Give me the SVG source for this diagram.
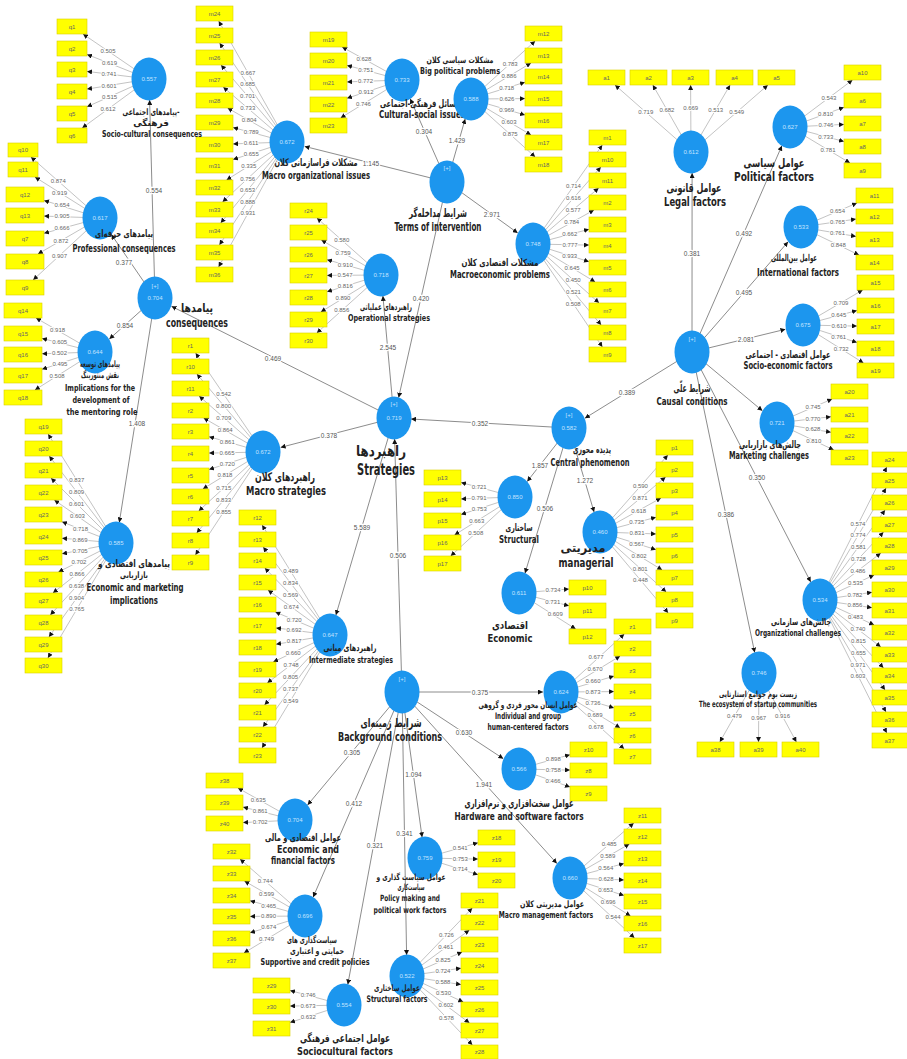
<svg xmlns="http://www.w3.org/2000/svg" width="907" height="1059" viewBox="0 0 907 1059">
<style>
.l{stroke:#9a9a9a;stroke-width:.6;fill:none;marker-end:url(#ah)}
.p{stroke:#6e6e6e;stroke-width:.8;fill:none;marker-end:url(#ah)}
.ld text{font-family:"Liberation Sans",sans-serif;font-size:6px;fill:#666;text-anchor:middle;dominant-baseline:central;paint-order:stroke;stroke:#fff;stroke-width:2px}
.pl text{font-family:"Liberation Sans",sans-serif;font-size:6.5px;fill:#555;text-anchor:middle;dominant-baseline:central;paint-order:stroke;stroke:#fff;stroke-width:2.5px}
.ind rect{fill:#ffff00;stroke:#d9cf00;stroke-width:.6}
.ind text{font-family:"Liberation Sans",sans-serif;font-size:6px;fill:#666;text-anchor:middle;dominant-baseline:central}
.lv ellipse{fill:#1c96ee}
.lv .v{font-family:"Liberation Sans",sans-serif;font-size:6px;fill:#c4e4ff;text-anchor:middle;dominant-baseline:central}
.lv .en{font-family:"DejaVu Sans Condensed","DejaVu Sans",sans-serif;font-weight:bold;fill:#222;text-anchor:middle;dominant-baseline:central}
.lv .fa{font-family:"DejaVu Sans","Noto Sans",sans-serif;font-weight:bold;fill:#222;text-anchor:middle;dominant-baseline:central}
</style>
<defs>
<marker id="ah" viewBox="0 0 10 10" refX="10" refY="5" markerWidth="5" markerHeight="5" markerUnits="userSpaceOnUse" orient="auto"><path d="M0,0L10,5L0,10z" fill="#111"/></marker>
</defs>
<rect width="907" height="1059" fill="#fff"/>
<g id="connectors">
<g class="paths">
<path class="p" d="M155 298L149.6 100"/>
<path class="p" d="M155 298L111.3 234.4"/>
<path class="p" d="M155 298L109.3 339.1"/>
<path class="p" d="M155 298L119.3 522.4"/>
<path class="p" d="M394 418L171.5 306.3"/>
<path class="p" d="M447 182L304.6 146.4"/>
<path class="p" d="M447 182L410.2 98.7"/>
<path class="p" d="M447 182L465.2 118.9"/>
<path class="p" d="M447 182L517.7 233"/>
<path class="p" d="M447 182L398.6 397.7"/>
<path class="p" d="M394 418L382.9 295.9"/>
<path class="p" d="M569 428L411 419"/>
<path class="p" d="M394 418L280.6 447.4"/>
<path class="p" d="M394 418L335.9 615.1"/>
<path class="p" d="M402 692L394.6 439"/>
<path class="p" d="M692 352L584.9 418.2"/>
<path class="p" d="M569 428L527.2 481.5"/>
<path class="p" d="M569 428L594.1 512.1"/>
<path class="p" d="M569 428L525 573.2"/>
<path class="p" d="M692 352L692.1 173"/>
<path class="p" d="M692 352L781.9 145.7"/>
<path class="p" d="M692 352L788.1 241.8"/>
<path class="p" d="M692 352L785.4 329.3"/>
<path class="p" d="M692 352L762.4 410.8"/>
<path class="p" d="M692 352L810.7 582"/>
<path class="p" d="M692 352L754.7 652.6"/>
<path class="p" d="M402 692L543 692"/>
<path class="p" d="M402 692L503.3 758.7"/>
<path class="p" d="M402 692L556.9 863.5"/>
<path class="p" d="M402 692L422.1 837.3"/>
<path class="p" d="M402 692L406.6 955"/>
<path class="p" d="M402 692L347.8 984.4"/>
<path class="p" d="M402 692L313.1 897.2"/>
<path class="p" d="M402 692L307.6 805"/>
</g>
<g class="lines">
<path class="l" d="M149 79L83 34"/><path class="l" d="M149 79L87 54.4"/><path class="l" d="M149 79L87 71.4"/><path class="l" d="M149 79L87 89.1"/><path class="l" d="M149 79L87 106.8"/><path class="l" d="M149 79L82.2 128"/>
<path class="l" d="M100 218L30.9 157"/><path class="l" d="M100 218L34.9 177"/><path class="l" d="M100 218L44 200.4"/><path class="l" d="M100 218L44 216.1"/><path class="l" d="M100 218L44 233.3"/><path class="l" d="M100 218L37.9 254"/><path class="l" d="M100 218L33.1 280"/>
<path class="l" d="M95 352L36 318"/><path class="l" d="M95 352L42 338.4"/><path class="l" d="M95 352L42 353.8"/><path class="l" d="M95 352L42 369.3"/><path class="l" d="M95 352L34.9 390"/>
<path class="l" d="M116 543L48.1 434"/><path class="l" d="M116 543L49.2 456"/><path class="l" d="M116 543L51 478"/><path class="l" d="M116 543L54.3 500"/><path class="l" d="M116 543L62 521.8"/><path class="l" d="M116 543L62 538.2"/><path class="l" d="M116 543L62 553.8"/><path class="l" d="M116 543L58.4 572"/><path class="l" d="M116 543L52.9 593"/><path class="l" d="M116 543L50.3 615"/><path class="l" d="M116 543L48.9 637"/><path class="l" d="M116 543L47.9 658"/>
<path class="l" d="M287 142L218.7 21"/><path class="l" d="M287 142L219.6 43"/><path class="l" d="M287 142L221 65"/><path class="l" d="M287 142L223.2 87"/><path class="l" d="M287 142L227.6 108"/><path class="l" d="M287 142L233 127.5"/><path class="l" d="M287 142L233 143.9"/><path class="l" d="M287 142L233 159.5"/><path class="l" d="M287 142L226.5 180"/><path class="l" d="M287 142L222.5 202"/><path class="l" d="M287 142L220.7 223"/><path class="l" d="M287 142L219.4 245"/><path class="l" d="M287 142L218.6 267"/>
<path class="l" d="M402 80L342.1 47"/><path class="l" d="M402 80L347 65.4"/><path class="l" d="M402 80L347 81.9"/><path class="l" d="M402 80L347 98.3"/><path class="l" d="M402 80L340.6 118"/>
<path class="l" d="M471 99L535.2 41"/><path class="l" d="M471 99L531 63"/><path class="l" d="M471 99L525 82.2"/><path class="l" d="M471 99L525 98.6"/><path class="l" d="M471 99L525 115"/><path class="l" d="M471 99L531 135"/><path class="l" d="M471 99L535.2 157"/>
<path class="l" d="M533 244L602.3 145"/><path class="l" d="M533 244L600.9 167"/><path class="l" d="M533 244L598.7 188"/><path class="l" d="M533 244L594 210"/><path class="l" d="M533 244L589 229.3"/><path class="l" d="M533 244L589 245.1"/><path class="l" d="M533 244L589 261.7"/><path class="l" d="M533 244L595.2 282"/><path class="l" d="M533 244L599.1 303"/><path class="l" d="M533 244L601.2 325"/><path class="l" d="M533 244L602.4 347"/>
<path class="l" d="M381 275L316.9 218"/><path class="l" d="M381 275L321.3 240"/><path class="l" d="M381 275L327 259.7"/><path class="l" d="M381 275L327 275.4"/><path class="l" d="M381 275L327 291.8"/><path class="l" d="M381 275L320.8 312"/><path class="l" d="M381 275L316.8 333"/>
<path class="l" d="M515 497L461 482.5"/><path class="l" d="M515 497L461 498.9"/><path class="l" d="M515 497L461 514.5"/><path class="l" d="M515 497L454.5 535"/><path class="l" d="M515 497L450.7 556"/>
<path class="l" d="M600 532L667.9 455"/><path class="l" d="M600 532L665.6 477"/><path class="l" d="M600 532L661 498"/><path class="l" d="M600 532L656 517.3"/><path class="l" d="M600 532L656 533.9"/><path class="l" d="M600 532L656 549.7"/><path class="l" d="M600 532L662.2 570"/><path class="l" d="M600 532L666.2 592"/><path class="l" d="M600 532L668.2 613"/>
<path class="l" d="M519 593L569 589"/><path class="l" d="M519 593L569 605.8"/><path class="l" d="M519 593L575.7 629"/>
<path class="l" d="M263 452L195.6 353"/><path class="l" d="M263 452L196.9 374"/><path class="l" d="M263 452L199.1 396"/><path class="l" d="M263 452L203.6 418"/><path class="l" d="M263 452L209 436.7"/><path class="l" d="M263 452L209 453.1"/><path class="l" d="M263 452L209 469.5"/><path class="l" d="M263 452L202.8 489"/><path class="l" d="M263 452L198.7 511"/><path class="l" d="M263 452L196.7 533"/><path class="l" d="M263 452L195.4 555"/>
<path class="l" d="M330 635L262.1 525"/><path class="l" d="M330 635L263.2 547"/><path class="l" d="M330 635L264.8 568"/><path class="l" d="M330 635L267.9 590"/><path class="l" d="M330 635L275.3 612"/><path class="l" d="M330 635L276 627.9"/><path class="l" d="M330 635L276 644.3"/><path class="l" d="M330 635L273.2 662"/><path class="l" d="M330 635L267.3 683"/><path class="l" d="M330 635L264.5 705"/><path class="l" d="M330 635L262.9 727"/><path class="l" d="M330 635L262 748"/>
<path class="l" d="M561 692L624.3 634"/><path class="l" d="M561 692L620.2 656"/><path class="l" d="M561 692L614 676.1"/><path class="l" d="M561 692L614 691.6"/><path class="l" d="M561 692L614 707.9"/><path class="l" d="M561 692L620.2 728"/><path class="l" d="M561 692L624.2 749"/>
<path class="l" d="M519 769L570 754.7"/><path class="l" d="M519 769L570 770.1"/><path class="l" d="M519 769L570 787"/>
<path class="l" d="M570 878L633.8 823"/><path class="l" d="M570 878L629.4 844"/><path class="l" d="M570 878L624 863.5"/><path class="l" d="M570 878L624 879.9"/><path class="l" d="M570 878L624 895.5"/><path class="l" d="M570 878L630.5 916"/><path class="l" d="M570 878L634.5 938"/>
<path class="l" d="M425 858L478 842.8"/><path class="l" d="M425 858L478 859.1"/><path class="l" d="M425 858L478 874.7"/>
<path class="l" d="M407 976L472.3 908"/><path class="l" d="M407 976L469.4 930"/><path class="l" d="M407 976L462.2 952"/><path class="l" d="M407 976L461 968.2"/><path class="l" d="M407 976L461 984.6"/><path class="l" d="M407 976L463.3 1002"/><path class="l" d="M407 976L469.5 1023"/><path class="l" d="M407 976L472.4 1045"/>
<path class="l" d="M344 1005L290 990.5"/><path class="l" d="M344 1005L290 1006.1"/><path class="l" d="M344 1005L290 1022.5"/>
<path class="l" d="M305 916L240 859"/><path class="l" d="M305 916L244.4 881"/><path class="l" d="M305 916L250 900.7"/><path class="l" d="M305 916L250 916.4"/><path class="l" d="M305 916L250 932.8"/><path class="l" d="M305 916L243.9 953"/>
<path class="l" d="M295 820L237.9 788"/><path class="l" d="M295 820L243 807.1"/><path class="l" d="M295 820L243 822.6"/>
<path class="l" d="M691 152L615 85"/><path class="l" d="M691 152L652.8 85"/><path class="l" d="M691 152L690.6 85"/><path class="l" d="M691 152L730.1 85"/><path class="l" d="M691 152L767.9 85"/>
<path class="l" d="M790 127L852.5 80"/><path class="l" d="M790 127L844 107.3"/><path class="l" d="M790 127L844 124.4"/><path class="l" d="M790 127L844 141.5"/><path class="l" d="M790 127L850 163"/>
<path class="l" d="M801 227L857 203"/><path class="l" d="M801 227L856 219.1"/><path class="l" d="M801 227L856 236.4"/><path class="l" d="M801 227L859 255"/>
<path class="l" d="M803 325L862.7 290"/><path class="l" d="M803 325L857 310.5"/><path class="l" d="M803 325L857 326.1"/><path class="l" d="M803 325L857 342.5"/><path class="l" d="M803 325L863.5 363"/>
<path class="l" d="M777 423L832.2 399"/><path class="l" d="M777 423L831 416.7"/><path class="l" d="M777 423L831 432.3"/><path class="l" d="M777 423L833.8 450"/>
<path class="l" d="M820 600L886.8 467"/><path class="l" d="M820 600L886.1 488"/><path class="l" d="M820 600L885.1 510"/><path class="l" d="M820 600L883.5 532"/><path class="l" d="M820 600L880.8 553"/><path class="l" d="M820 600L874.2 575"/><path class="l" d="M820 600L872 592.3"/><path class="l" d="M820 600L872 607.7"/><path class="l" d="M820 600L874.2 625"/><path class="l" d="M820 600L880.8 647"/><path class="l" d="M820 600L883.5 668"/><path class="l" d="M820 600L885.1 690"/><path class="l" d="M820 600L886.1 712"/><path class="l" d="M820 600L886.8 733"/>
<path class="l" d="M759 673L719.8 742"/><path class="l" d="M759 673L758.5 742"/><path class="l" d="M759 673L796.4 742"/>
</g>
<g class="pl">
<text x="154" y="190">0.554</text><text x="124" y="262">0.377</text><text x="125" y="325">0.854</text><text x="137" y="423">1.408</text>
<text x="273" y="358">0.469</text><text x="371" y="163">1.145</text><text x="424" y="131">0.304</text><text x="457" y="140">1.429</text>
<text x="492" y="214">2.971</text><text x="421" y="298">0.420</text><text x="388" y="347">2.545</text><text x="480" y="423">0.352</text>
<text x="329" y="435">0.378</text><text x="362" y="527">5.589</text><text x="398" y="555">0.506</text><text x="627" y="392">0.389</text>
<text x="540" y="465">1.857</text><text x="585" y="480">1.272</text><text x="545" y="508">0.506</text><text x="692" y="253">0.381</text>
<text x="744" y="233">0.492</text><text x="744" y="292">0.495</text><text x="746" y="339">2.081</text><text x="757" y="477">0.350</text>
<text x="726" y="514">0.386</text><text x="480" y="692">0.375</text><text x="464" y="732.5">0.630</text><text x="484" y="784">1.941</text>
<text x="413.5" y="774">1.094</text><text x="404.5" y="833">0.341</text><text x="375" y="845">0.321</text><text x="354" y="803">0.412</text>
<text x="352" y="752">0.305</text>
</g>
<g class="ld">
<text x="108" y="51">0.505</text><text x="109.5" y="63.4">0.619</text><text x="109" y="74.1">0.741</text><text x="109" y="85.5">0.601</text><text x="109.6" y="96.7">0.515</text><text x="108" y="109.1">0.612</text>
<text x="58.3" y="181.2">0.874</text><text x="59.6" y="192.5">0.919</text><text x="62" y="204.5">0.654</text><text x="62" y="215.8">0.905</text><text x="62" y="228">0.666</text><text x="60.9" y="240.7">0.872</text><text x="59.5" y="255.5">0.907</text>
<text x="57.6" y="330.4">0.918</text><text x="59.7" y="342.4">0.605</text><text x="59.5" y="353.2">0.502</text><text x="59.9" y="364">0.495</text><text x="57.1" y="376">0.508</text>
<text x="76.8" y="480">0.837</text><text x="76.6" y="491.7">0.809</text><text x="76.6" y="503.6">0.601</text><text x="77.4" y="516.1">0.603</text><text x="80.5" y="528.5">0.718</text><text x="80" y="539.8">0.869</text><text x="80.1" y="550.5">0.705</text><text x="78.9" y="561.7">0.702</text><text x="77" y="573.9">0.866</text><text x="76.6" y="586.2">0.638</text><text x="76.6" y="598.1">0.904</text><text x="76.8" y="609.2">0.765</text>
<text x="247.9" y="72.7">0.667</text><text x="247.7" y="84.3">0.685</text><text x="247.6" y="96.1">0.701</text><text x="247.8" y="108.2">0.733</text><text x="249.2" y="120.4">0.804</text><text x="251.2" y="132">0.789</text><text x="251" y="143">0.611</text><text x="251.3" y="154">0.655</text><text x="248.8" y="166">0.335</text><text x="247.7" y="178.6">0.756</text><text x="247.6" y="190.1">0.653</text><text x="247.7" y="201.9">0.888</text><text x="247.9" y="213.4">0.931</text>
<text x="363.9" y="59">0.628</text><text x="365.8" y="70.4">0.751</text><text x="365.5" y="81.2">0.772</text><text x="366" y="92">0.912</text><text x="363.4" y="103.9">0.746</text>
<text x="510.2" y="63.6">0.783</text><text x="509" y="76">0.886</text><text x="506.7" y="87.9">0.718</text><text x="506.9" y="98.8">0.626</text><text x="506.7" y="109.6">0.969</text><text x="509" y="121.8">0.603</text><text x="510.2" y="134.4">0.875</text>
<text x="573.4" y="186.3">0.714</text><text x="573.4" y="198.2">0.616</text><text x="573.2" y="209.8">0.577</text><text x="571.7" y="222.3">0.784</text><text x="569.8" y="234">0.662</text><text x="570" y="244.9">0.777</text><text x="569.7" y="255.8">0.933</text><text x="572.1" y="267.9">0.645</text><text x="573.2" y="279.9">0.450</text><text x="573.4" y="292">0.521</text><text x="573.2" y="303.7">0.508</text>
<text x="341.8" y="240.1">0.580</text><text x="343.1" y="252.8">0.759</text><text x="345.3" y="264.5">0.910</text><text x="345" y="275.4">0.547</text><text x="345.3" y="286.3">0.816</text><text x="342.9" y="298.4">0.890</text><text x="341.8" y="310.4">0.856</text>
<text x="479.2" y="487.4">0.721</text><text x="479" y="498.2">0.791</text><text x="479.3" y="509">0.753</text><text x="476.8" y="521">0.663</text><text x="475.8" y="533">0.508</text>
<text x="640.4" y="486.2">0.590</text><text x="640.1" y="498.4">0.871</text><text x="638.7" y="510.5">0.618</text><text x="636.8" y="522">0.735</text><text x="637" y="533">0.831</text><text x="636.7" y="544">0.567</text><text x="639.1" y="555.9">0.802</text><text x="640.2" y="568.5">0.801</text><text x="640.4" y="580">0.448</text>
<text x="553" y="590.3">0.734</text><text x="552.8" y="601.6">0.731</text><text x="555.3" y="614">0.609</text>
<text x="223.7" y="394.3">0.542</text><text x="223.6" y="405.6">0.800</text><text x="223.8" y="417.7">0.709</text><text x="225.2" y="430">0.864</text><text x="227.3" y="441.5">0.861</text><text x="227" y="452.7">0.665</text><text x="227.3" y="463.8">0.720</text><text x="224.9" y="475.4">0.818</text><text x="223.8" y="488">0.715</text><text x="223.6" y="500.1">0.833</text><text x="223.7" y="511.9">0.855</text>
<text x="290.8" y="571.4">0.489</text><text x="290.6" y="583.1">0.834</text><text x="290.6" y="594.8">0.569</text><text x="291.3" y="607">0.674</text><text x="294.2" y="619.5">0.720</text><text x="294.1" y="630.3">0.692</text><text x="294.2" y="641.2">0.817</text><text x="293.2" y="652.5">0.660</text><text x="291.1" y="664.8">0.748</text><text x="290.6" y="677.1">0.805</text><text x="290.6" y="689">0.737</text><text x="290.8" y="700.6">0.549</text>
<text x="596" y="656.6">0.677</text><text x="595" y="669.1">0.670</text><text x="593" y="680.6">0.660</text><text x="593" y="691.8">0.873</text><text x="593" y="703">0.736</text><text x="595" y="714.9">0.689</text><text x="596" y="726.9">0.678</text>
<text x="553.3" y="759.4">0.898</text><text x="553.3" y="770">0.758</text><text x="553.1" y="781">0.466</text>
<text x="609.2" y="844.2">0.485</text><text x="607.8" y="856.4">0.589</text><text x="605.8" y="868">0.564</text><text x="606" y="879.2">0.628</text><text x="605.7" y="890">0.653</text><text x="608.2" y="902">0.696</text><text x="613" y="917">0.544</text>
<text x="460.2" y="847.9">0.541</text><text x="460.3" y="858.7">0.753</text><text x="460.2" y="869.3">0.714</text>
<text x="446.4" y="935">0.726</text><text x="445.8" y="947.4">0.461</text><text x="443.1" y="959.8">0.825</text><text x="442.9" y="970.8">0.724</text><text x="442.9" y="981.7">0.588</text><text x="443.5" y="992.9">0.530</text><text x="445.9" y="1005.2">0.602</text><text x="446.4" y="1017.5">0.578</text>
<text x="308.2" y="995.2">0.746</text><text x="308" y="1005.9">0.673</text><text x="308.3" y="1016.6">0.632</text>
<text x="265.3" y="881.2">0.744</text><text x="266.6" y="893.8">0.599</text><text x="268.7" y="905.5">0.465</text><text x="268.5" y="916.3">0.890</text><text x="268.8" y="927.3">0.674</text><text x="266.5" y="939.3">0.749</text>
<text x="258.3" y="799.5">0.635</text><text x="260.2" y="811.2">0.861</text><text x="260.2" y="821.9">0.702</text>
<text x="645.8" y="112.1">0.719</text><text x="666.9" y="109.8">0.682</text><text x="690.7" y="108">0.669</text><text x="715.7" y="109.8">0.513</text><text x="736.7" y="112.2">0.549</text>
<text x="828.9" y="97.8">0.543</text><text x="825.6" y="114">0.810</text><text x="825.9" y="125.3">0.746</text><text x="825.8" y="136.6">0.733</text><text x="828" y="149.8">0.781</text>
<text x="837.5" y="211.4">0.654</text><text x="837.5" y="222">0.765</text><text x="837.5" y="233.2">0.761</text><text x="838.3" y="245">0.848</text>
<text x="840.9" y="302.8">0.709</text><text x="838.8" y="315">0.645</text><text x="839" y="325.8">0.610</text><text x="838.7" y="336.8">0.761</text><text x="841.2" y="349">0.732</text>
<text x="813.1" y="407.3">0.745</text><text x="812.9" y="418.6">0.770</text><text x="812.9" y="429.4">0.628</text><text x="813.8" y="440.5">0.810</text>
<text x="857.9" y="524.4">0.574</text><text x="858.1" y="535.4">0.774</text><text x="858.4" y="547">0.581</text><text x="858.4" y="558.9">0.728</text><text x="857.9" y="570.7">0.486</text><text x="855.5" y="583.4">0.535</text><text x="854.9" y="594.6">0.782</text><text x="854.9" y="605.4">0.856</text><text x="855.5" y="616.6">0.483</text><text x="857.9" y="629.3">0.740</text><text x="858.4" y="641.1">0.815</text><text x="858.4" y="653">0.655</text><text x="858.1" y="664.6">0.971</text><text x="857.9" y="675.6">0.603</text>
<text x="734.4" y="716.3">0.479</text><text x="758.7" y="718">0.967</text><text x="782.5" y="716.3">0.916</text>
</g>
</g>
<g class="ind">
<g id="q1"><rect x="57" y="19" width="30" height="15"/><text x="72" y="26.5">q1</text></g>
<g id="q2"><rect x="57" y="41" width="30" height="15"/><text x="72" y="48.5">q2</text></g>
<g id="q3"><rect x="57" y="62" width="30" height="15"/><text x="72" y="69.5">q3</text></g>
<g id="q4"><rect x="57" y="84" width="30" height="15"/><text x="72" y="91.5">q4</text></g>
<g id="q5"><rect x="57" y="106" width="30" height="15"/><text x="72" y="113.5">q5</text></g>
<g id="q6"><rect x="57" y="128" width="30" height="15"/><text x="72" y="135.5">q6</text></g>
<g id="q10"><rect x="8" y="143" width="30" height="14"/><text x="23" y="150">q10</text></g>
<g id="q11"><rect x="8" y="162" width="30" height="15"/><text x="23" y="169.5">q11</text></g>
<g id="q12"><rect x="6" y="187" width="38" height="15"/><text x="25" y="194.5">q12</text></g>
<g id="q13"><rect x="6" y="208" width="38" height="15"/><text x="25" y="215.5">q13</text></g>
<g id="q7"><rect x="6" y="231" width="38" height="15"/><text x="25" y="238.5">q7</text></g>
<g id="q8"><rect x="6" y="254" width="38" height="15"/><text x="25" y="261.5">q8</text></g>
<g id="q9"><rect x="6" y="280" width="38" height="15"/><text x="25" y="287.5">q9</text></g>
<g id="q14"><rect x="4" y="303" width="38" height="15"/><text x="23" y="310.5">q14</text></g>
<g id="q15"><rect x="4" y="326" width="38" height="15"/><text x="23" y="333.5">q15</text></g>
<g id="q16"><rect x="4" y="347" width="38" height="15"/><text x="23" y="354.5">q16</text></g>
<g id="q17"><rect x="4" y="368" width="38" height="15"/><text x="23" y="375.5">q17</text></g>
<g id="q18"><rect x="4" y="390" width="38" height="15"/><text x="23" y="397.5">q18</text></g>
<g id="q19"><rect x="25" y="419" width="37" height="15"/><text x="43.5" y="426.5">q19</text></g>
<g id="q20"><rect x="25" y="441" width="37" height="15"/><text x="43.5" y="448.5">q20</text></g>
<g id="q21"><rect x="25" y="463" width="37" height="15"/><text x="43.5" y="470.5">q21</text></g>
<g id="q22"><rect x="25" y="485" width="37" height="15"/><text x="43.5" y="492.5">q22</text></g>
<g id="q23"><rect x="25" y="507" width="37" height="15"/><text x="43.5" y="514.5">q23</text></g>
<g id="q24"><rect x="25" y="529" width="37" height="15"/><text x="43.5" y="536.5">q24</text></g>
<g id="q25"><rect x="25" y="550" width="37" height="15"/><text x="43.5" y="557.5">q25</text></g>
<g id="q26"><rect x="25" y="572" width="37" height="15"/><text x="43.5" y="579.5">q26</text></g>
<g id="q27"><rect x="25" y="593" width="37" height="15"/><text x="43.5" y="600.5">q27</text></g>
<g id="q28"><rect x="25" y="615" width="37" height="15"/><text x="43.5" y="622.5">q28</text></g>
<g id="q29"><rect x="25" y="637" width="37" height="15"/><text x="43.5" y="644.5">q29</text></g>
<g id="q30"><rect x="25" y="658" width="37" height="15"/><text x="43.5" y="665.5">q30</text></g>
<g id="m24"><rect x="196" y="6" width="37" height="15"/><text x="214.5" y="13.5">m24</text></g>
<g id="m25"><rect x="196" y="28" width="37" height="15"/><text x="214.5" y="35.5">m25</text></g>
<g id="m26"><rect x="196" y="50" width="37" height="15"/><text x="214.5" y="57.5">m26</text></g>
<g id="m27"><rect x="196" y="72" width="37" height="15"/><text x="214.5" y="79.5">m27</text></g>
<g id="m28"><rect x="196" y="93" width="37" height="15"/><text x="214.5" y="100.5">m28</text></g>
<g id="m29"><rect x="196" y="115" width="37" height="15"/><text x="214.5" y="122.5">m29</text></g>
<g id="m30"><rect x="196" y="137" width="37" height="15"/><text x="214.5" y="144.5">m30</text></g>
<g id="m31"><rect x="196" y="158" width="37" height="15"/><text x="214.5" y="165.5">m31</text></g>
<g id="m32"><rect x="196" y="180" width="37" height="15"/><text x="214.5" y="187.5">m32</text></g>
<g id="m33"><rect x="196" y="202" width="37" height="15"/><text x="214.5" y="209.5">m33</text></g>
<g id="m34"><rect x="196" y="223" width="37" height="15"/><text x="214.5" y="230.5">m34</text></g>
<g id="m35"><rect x="196" y="245" width="37" height="15"/><text x="214.5" y="252.5">m35</text></g>
<g id="m36"><rect x="196" y="267" width="37" height="15"/><text x="214.5" y="274.5">m36</text></g>
<g id="m19"><rect x="310" y="32" width="37" height="15"/><text x="328.5" y="39.5">m19</text></g>
<g id="m20"><rect x="310" y="53" width="37" height="15"/><text x="328.5" y="60.5">m20</text></g>
<g id="m21"><rect x="310" y="75" width="37" height="15"/><text x="328.5" y="82.5">m21</text></g>
<g id="m22"><rect x="310" y="97" width="37" height="15"/><text x="328.5" y="104.5">m22</text></g>
<g id="m23"><rect x="310" y="118" width="37" height="15"/><text x="328.5" y="125.5">m23</text></g>
<g id="m12"><rect x="525" y="26" width="37" height="15"/><text x="543.5" y="33.5">m12</text></g>
<g id="m13"><rect x="525" y="48" width="37" height="15"/><text x="543.5" y="55.5">m13</text></g>
<g id="m14"><rect x="525" y="69" width="37" height="15"/><text x="543.5" y="76.5">m14</text></g>
<g id="m15"><rect x="525" y="91" width="37" height="15"/><text x="543.5" y="98.5">m15</text></g>
<g id="m16"><rect x="525" y="113" width="37" height="15"/><text x="543.5" y="120.5">m16</text></g>
<g id="m17"><rect x="525" y="135" width="37" height="15"/><text x="543.5" y="142.5">m17</text></g>
<g id="m18"><rect x="525" y="157" width="37" height="15"/><text x="543.5" y="164.5">m18</text></g>
<g id="m1"><rect x="589" y="130" width="37" height="15"/><text x="607.5" y="137.5">m1</text></g>
<g id="m10"><rect x="589" y="152" width="37" height="15"/><text x="607.5" y="159.5">m10</text></g>
<g id="m11"><rect x="589" y="173" width="37" height="15"/><text x="607.5" y="180.5">m11</text></g>
<g id="m2"><rect x="589" y="195" width="37" height="15"/><text x="607.5" y="202.5">m2</text></g>
<g id="m3"><rect x="589" y="217" width="37" height="15"/><text x="607.5" y="224.5">m3</text></g>
<g id="m4"><rect x="589" y="238" width="37" height="15"/><text x="607.5" y="245.5">m4</text></g>
<g id="m5"><rect x="589" y="260" width="37" height="15"/><text x="607.5" y="267.5">m5</text></g>
<g id="m6"><rect x="589" y="282" width="37" height="15"/><text x="607.5" y="289.5">m6</text></g>
<g id="m7"><rect x="589" y="303" width="37" height="15"/><text x="607.5" y="310.5">m7</text></g>
<g id="m8"><rect x="589" y="325" width="37" height="15"/><text x="607.5" y="332.5">m8</text></g>
<g id="m9"><rect x="589" y="347" width="37" height="15"/><text x="607.5" y="354.5">m9</text></g>
<g id="r24"><rect x="290" y="203" width="37" height="15"/><text x="308.5" y="210.5">r24</text></g>
<g id="r25"><rect x="290" y="225" width="37" height="15"/><text x="308.5" y="232.5">r25</text></g>
<g id="r26"><rect x="290" y="247" width="37" height="15"/><text x="308.5" y="254.5">r26</text></g>
<g id="r27"><rect x="290" y="268" width="37" height="15"/><text x="308.5" y="275.5">r27</text></g>
<g id="r28"><rect x="290" y="290" width="37" height="15"/><text x="308.5" y="297.5">r28</text></g>
<g id="r29"><rect x="290" y="312" width="37" height="15"/><text x="308.5" y="319.5">r29</text></g>
<g id="r30"><rect x="290" y="333" width="37" height="15"/><text x="308.5" y="340.5">r30</text></g>
<g id="p13"><rect x="424" y="470" width="37" height="15"/><text x="442.5" y="477.5">p13</text></g>
<g id="p14"><rect x="424" y="492" width="37" height="15"/><text x="442.5" y="499.5">p14</text></g>
<g id="p15"><rect x="424" y="513" width="37" height="15"/><text x="442.5" y="520.5">p15</text></g>
<g id="p16"><rect x="424" y="535" width="37" height="15"/><text x="442.5" y="542.5">p16</text></g>
<g id="p17"><rect x="424" y="556" width="37" height="15"/><text x="442.5" y="563.5">p17</text></g>
<g id="p1"><rect x="656" y="440" width="37" height="15"/><text x="674.5" y="447.5">p1</text></g>
<g id="p2"><rect x="656" y="462" width="37" height="15"/><text x="674.5" y="469.5">p2</text></g>
<g id="p3"><rect x="656" y="483" width="37" height="15"/><text x="674.5" y="490.5">p3</text></g>
<g id="p4"><rect x="656" y="505" width="37" height="15"/><text x="674.5" y="512.5">p4</text></g>
<g id="p5"><rect x="656" y="527" width="37" height="15"/><text x="674.5" y="534.5">p5</text></g>
<g id="p6"><rect x="656" y="548" width="37" height="15"/><text x="674.5" y="555.5">p6</text></g>
<g id="p7"><rect x="656" y="570" width="37" height="15"/><text x="674.5" y="577.5">p7</text></g>
<g id="p8"><rect x="656" y="592" width="37" height="15"/><text x="674.5" y="599.5">p8</text></g>
<g id="p9"><rect x="656" y="613" width="37" height="15"/><text x="674.5" y="620.5">p9</text></g>
<g id="p10"><rect x="569" y="580" width="37" height="15"/><text x="587.5" y="587.5">p10</text></g>
<g id="p11"><rect x="569" y="603" width="37" height="15"/><text x="587.5" y="610.5">p11</text></g>
<g id="p12"><rect x="569" y="629" width="37" height="15"/><text x="587.5" y="636.5">p12</text></g>
<g id="r1"><rect x="172" y="338" width="37" height="15"/><text x="190.5" y="345.5">r1</text></g>
<g id="r10"><rect x="172" y="359" width="37" height="15"/><text x="190.5" y="366.5">r10</text></g>
<g id="r11"><rect x="172" y="381" width="37" height="15"/><text x="190.5" y="388.5">r11</text></g>
<g id="r2"><rect x="172" y="403" width="37" height="15"/><text x="190.5" y="410.5">r2</text></g>
<g id="r3"><rect x="172" y="424" width="37" height="15"/><text x="190.5" y="431.5">r3</text></g>
<g id="r4"><rect x="172" y="446" width="37" height="15"/><text x="190.5" y="453.5">r4</text></g>
<g id="r5"><rect x="172" y="468" width="37" height="15"/><text x="190.5" y="475.5">r5</text></g>
<g id="r6"><rect x="172" y="489" width="37" height="15"/><text x="190.5" y="496.5">r6</text></g>
<g id="r7"><rect x="172" y="511" width="37" height="15"/><text x="190.5" y="518.5">r7</text></g>
<g id="r8"><rect x="172" y="533" width="37" height="15"/><text x="190.5" y="540.5">r8</text></g>
<g id="r9"><rect x="172" y="555" width="37" height="15"/><text x="190.5" y="562.5">r9</text></g>
<g id="r12"><rect x="239" y="510" width="37" height="15"/><text x="257.5" y="517.5">r12</text></g>
<g id="r13"><rect x="239" y="532" width="37" height="15"/><text x="257.5" y="539.5">r13</text></g>
<g id="r14"><rect x="239" y="553" width="37" height="15"/><text x="257.5" y="560.5">r14</text></g>
<g id="r15"><rect x="239" y="575" width="37" height="15"/><text x="257.5" y="582.5">r15</text></g>
<g id="r16"><rect x="239" y="597" width="37" height="15"/><text x="257.5" y="604.5">r16</text></g>
<g id="r17"><rect x="239" y="618" width="37" height="15"/><text x="257.5" y="625.5">r17</text></g>
<g id="r18"><rect x="239" y="640" width="37" height="15"/><text x="257.5" y="647.5">r18</text></g>
<g id="r19"><rect x="239" y="662" width="37" height="15"/><text x="257.5" y="669.5">r19</text></g>
<g id="r20"><rect x="239" y="683" width="37" height="15"/><text x="257.5" y="690.5">r20</text></g>
<g id="r21"><rect x="239" y="705" width="37" height="15"/><text x="257.5" y="712.5">r21</text></g>
<g id="r22"><rect x="239" y="727" width="37" height="15"/><text x="257.5" y="734.5">r22</text></g>
<g id="r23"><rect x="239" y="748" width="37" height="15"/><text x="257.5" y="755.5">r23</text></g>
<g id="z1"><rect x="614" y="619" width="37" height="15"/><text x="632.5" y="626.5">z1</text></g>
<g id="z2"><rect x="614" y="641" width="37" height="15"/><text x="632.5" y="648.5">z2</text></g>
<g id="z3"><rect x="614" y="663" width="37" height="15"/><text x="632.5" y="670.5">z3</text></g>
<g id="z4"><rect x="614" y="684" width="37" height="15"/><text x="632.5" y="691.5">z4</text></g>
<g id="z5"><rect x="614" y="706" width="37" height="15"/><text x="632.5" y="713.5">z5</text></g>
<g id="z6"><rect x="614" y="728" width="37" height="15"/><text x="632.5" y="735.5">z6</text></g>
<g id="z7"><rect x="614" y="749" width="37" height="15"/><text x="632.5" y="756.5">z7</text></g>
<g id="z10"><rect x="570" y="742" width="37" height="15"/><text x="588.5" y="749.5">z10</text></g>
<g id="z8"><rect x="570" y="763" width="37" height="15"/><text x="588.5" y="770.5">z8</text></g>
<g id="z9"><rect x="570" y="786" width="37" height="15"/><text x="588.5" y="793.5">z9</text></g>
<g id="z11"><rect x="624" y="808" width="37" height="15"/><text x="642.5" y="815.5">z11</text></g>
<g id="z12"><rect x="624" y="829" width="37" height="15"/><text x="642.5" y="836.5">z12</text></g>
<g id="z13"><rect x="624" y="851" width="37" height="15"/><text x="642.5" y="858.5">z13</text></g>
<g id="z14"><rect x="624" y="873" width="37" height="15"/><text x="642.5" y="880.5">z14</text></g>
<g id="z15"><rect x="624" y="894" width="37" height="15"/><text x="642.5" y="901.5">z15</text></g>
<g id="z16"><rect x="624" y="916" width="37" height="15"/><text x="642.5" y="923.5">z16</text></g>
<g id="z17"><rect x="624" y="938" width="37" height="15"/><text x="642.5" y="945.5">z17</text></g>
<g id="z18"><rect x="478" y="830" width="37" height="15"/><text x="496.5" y="837.5">z18</text></g>
<g id="z19"><rect x="478" y="852" width="37" height="15"/><text x="496.5" y="859.5">z19</text></g>
<g id="z20"><rect x="478" y="873" width="37" height="15"/><text x="496.5" y="880.5">z20</text></g>
<g id="z21"><rect x="461" y="893" width="37" height="15"/><text x="479.5" y="900.5">z21</text></g>
<g id="z22"><rect x="461" y="915" width="37" height="15"/><text x="479.5" y="922.5">z22</text></g>
<g id="z23"><rect x="461" y="937" width="37" height="15"/><text x="479.5" y="944.5">z23</text></g>
<g id="z24"><rect x="461" y="958" width="37" height="15"/><text x="479.5" y="965.5">z24</text></g>
<g id="z25"><rect x="461" y="980" width="37" height="15"/><text x="479.5" y="987.5">z25</text></g>
<g id="z26"><rect x="461" y="1002" width="37" height="15"/><text x="479.5" y="1009.5">z26</text></g>
<g id="z27"><rect x="461" y="1023" width="37" height="15"/><text x="479.5" y="1030.5">z27</text></g>
<g id="z28"><rect x="461" y="1045" width="37" height="14"/><text x="479.5" y="1052">z28</text></g>
<g id="z29"><rect x="253" y="978" width="37" height="15"/><text x="271.5" y="985.5">z29</text></g>
<g id="z30"><rect x="253" y="999" width="37" height="15"/><text x="271.5" y="1006.5">z30</text></g>
<g id="z31"><rect x="253" y="1021" width="37" height="15"/><text x="271.5" y="1028.5">z31</text></g>
<g id="z32"><rect x="213" y="844" width="37" height="15"/><text x="231.5" y="851.5">z32</text></g>
<g id="z33"><rect x="213" y="866" width="37" height="15"/><text x="231.5" y="873.5">z33</text></g>
<g id="z34"><rect x="213" y="888" width="37" height="15"/><text x="231.5" y="895.5">z34</text></g>
<g id="z35"><rect x="213" y="909" width="37" height="15"/><text x="231.5" y="916.5">z35</text></g>
<g id="z36"><rect x="213" y="931" width="37" height="15"/><text x="231.5" y="938.5">z36</text></g>
<g id="z37"><rect x="213" y="953" width="37" height="15"/><text x="231.5" y="960.5">z37</text></g>
<g id="z38"><rect x="206" y="773" width="37" height="15"/><text x="224.5" y="780.5">z38</text></g>
<g id="z39"><rect x="206" y="795" width="37" height="15"/><text x="224.5" y="802.5">z39</text></g>
<g id="z40"><rect x="206" y="816" width="37" height="15"/><text x="224.5" y="823.5">z40</text></g>
<g id="a1"><rect x="588" y="70" width="37" height="15"/><text x="606.5" y="77.5">a1</text></g>
<g id="a2"><rect x="630" y="70" width="37" height="15"/><text x="648.5" y="77.5">a2</text></g>
<g id="a3"><rect x="672" y="70" width="37" height="15"/><text x="690.5" y="77.5">a3</text></g>
<g id="a4"><rect x="716" y="70" width="37" height="15"/><text x="734.5" y="77.5">a4</text></g>
<g id="a5"><rect x="758" y="70" width="37" height="15"/><text x="776.5" y="77.5">a5</text></g>
<g id="a10"><rect x="844" y="65" width="37" height="15"/><text x="862.5" y="72.5">a10</text></g>
<g id="a6"><rect x="844" y="93" width="37" height="15"/><text x="862.5" y="100.5">a6</text></g>
<g id="a7"><rect x="844" y="116" width="37" height="15"/><text x="862.5" y="123.5">a7</text></g>
<g id="a8"><rect x="844" y="139" width="37" height="15"/><text x="862.5" y="146.5">a8</text></g>
<g id="a9"><rect x="844" y="163" width="37" height="15"/><text x="862.5" y="170.5">a9</text></g>
<g id="a11"><rect x="856" y="188" width="37" height="15"/><text x="874.5" y="195.5">a11</text></g>
<g id="a12"><rect x="856" y="209" width="37" height="15"/><text x="874.5" y="216.5">a12</text></g>
<g id="a13"><rect x="856" y="232" width="37" height="15"/><text x="874.5" y="239.5">a13</text></g>
<g id="a14"><rect x="856" y="255" width="37" height="15"/><text x="874.5" y="262.5">a14</text></g>
<g id="a15"><rect x="857" y="275" width="37" height="15"/><text x="875.5" y="282.5">a15</text></g>
<g id="a16"><rect x="857" y="298" width="37" height="15"/><text x="875.5" y="305.5">a16</text></g>
<g id="a17"><rect x="857" y="319" width="37" height="15"/><text x="875.5" y="326.5">a17</text></g>
<g id="a18"><rect x="857" y="341" width="37" height="15"/><text x="875.5" y="348.5">a18</text></g>
<g id="a19"><rect x="857" y="363" width="37" height="15"/><text x="875.5" y="370.5">a19</text></g>
<g id="a20"><rect x="831" y="384" width="37" height="15"/><text x="849.5" y="391.5">a20</text></g>
<g id="a21"><rect x="831" y="407" width="37" height="15"/><text x="849.5" y="414.5">a21</text></g>
<g id="a22"><rect x="831" y="428" width="37" height="15"/><text x="849.5" y="435.5">a22</text></g>
<g id="a23"><rect x="831" y="450" width="37" height="15"/><text x="849.5" y="457.5">a23</text></g>
<g id="a24"><rect x="872" y="452" width="37" height="15"/><text x="889.5" y="459.5">a24</text></g>
<g id="a25"><rect x="872" y="473" width="37" height="15"/><text x="889.5" y="480.5">a25</text></g>
<g id="a26"><rect x="872" y="495" width="37" height="15"/><text x="889.5" y="502.5">a26</text></g>
<g id="a27"><rect x="872" y="517" width="37" height="15"/><text x="889.5" y="524.5">a27</text></g>
<g id="a28"><rect x="872" y="538" width="37" height="15"/><text x="889.5" y="545.5">a28</text></g>
<g id="a29"><rect x="872" y="560" width="37" height="15"/><text x="889.5" y="567.5">a29</text></g>
<g id="a30"><rect x="872" y="582" width="37" height="15"/><text x="889.5" y="589.5">a30</text></g>
<g id="a31"><rect x="872" y="603" width="37" height="15"/><text x="889.5" y="610.5">a31</text></g>
<g id="a32"><rect x="872" y="625" width="37" height="15"/><text x="889.5" y="632.5">a32</text></g>
<g id="a33"><rect x="872" y="647" width="37" height="15"/><text x="889.5" y="654.5">a33</text></g>
<g id="a34"><rect x="872" y="668" width="37" height="15"/><text x="889.5" y="675.5">a34</text></g>
<g id="a35"><rect x="872" y="690" width="37" height="15"/><text x="889.5" y="697.5">a35</text></g>
<g id="a36"><rect x="872" y="712" width="37" height="15"/><text x="889.5" y="719.5">a36</text></g>
<g id="a37"><rect x="872" y="733" width="37" height="15"/><text x="889.5" y="740.5">a37</text></g>
<g id="a38"><rect x="697" y="742" width="37" height="15"/><text x="715.5" y="749.5">a38</text></g>
<g id="a39"><rect x="740" y="742" width="37" height="15"/><text x="758.5" y="749.5">a39</text></g>
<g id="a40"><rect x="782" y="742" width="37" height="15"/><text x="800.5" y="749.5">a40</text></g>
</g>
<g class="lv">
<g id="socio-cultural-consequences"><ellipse cx="149" cy="79" rx="17.5" ry="21.5"/><text class="v" x="149" y="79">0.557</text><text class="fa" transform="translate(151 112) scale(.621 1)" font-size="9" textLength="91.8" lengthAdjust="spacingAndGlyphs">پیامدهای اجتماعی-</text><text class="fa" x="151" y="123" font-size="9">فرهنگی</text><text class="en" transform="translate(152 134) scale(.823 1)" font-size="9" textLength="121.5" lengthAdjust="spacingAndGlyphs">Socio-cultural consequences</text></g>
<g id="professional-consequences"><ellipse cx="100" cy="218" rx="17.5" ry="21.5"/><text class="v" x="100" y="218">0.617</text><text class="fa" transform="translate(124 233) scale(.644 1)" font-size="10" textLength="90" lengthAdjust="spacingAndGlyphs">پیامدهای حرفه‌ای</text><text class="en" transform="translate(124 248) scale(.824 1)" font-size="10" textLength="125" lengthAdjust="spacingAndGlyphs">Professional consequences</text></g>
<g id="consequences"><ellipse cx="155" cy="298" rx="17.5" ry="21.5"/><text class="v" x="155" y="286">[+]</text><text class="v" x="155" y="298">0.704</text><text class="fa" transform="translate(197 308) scale(.635 1)" font-size="12" textLength="50.4" lengthAdjust="spacingAndGlyphs">پیامدها</text><text class="en" transform="translate(197 323) scale(.861 1)" font-size="12" textLength="72" lengthAdjust="spacingAndGlyphs">consequences</text></g>
<g id="mentoring-implications"><ellipse cx="95" cy="352" rx="17.5" ry="21.5"/><text class="v" x="95" y="352">0.644</text><text class="fa" transform="translate(100 364) scale(.53 1)" font-size="9" textLength="75.6" lengthAdjust="spacingAndGlyphs">پیامدهای توسعه</text><text class="fa" transform="translate(100 375) scale(.586 1)" font-size="9" textLength="64.8" lengthAdjust="spacingAndGlyphs">نقش منتورینگ</text><text class="en" transform="translate(100 388) scale(.778 1)" font-size="9" textLength="90" lengthAdjust="spacingAndGlyphs">Implications for the</text><text class="en" transform="translate(101 400) scale(.905 1)" font-size="9" textLength="63" lengthAdjust="spacingAndGlyphs">development of</text><text class="en" transform="translate(102 412) scale(.877 1)" font-size="9" textLength="81" lengthAdjust="spacingAndGlyphs">the mentoring role</text></g>
<g id="economic-marketing-implications"><ellipse cx="116" cy="543" rx="17.5" ry="21.5"/><text class="v" x="116" y="543">0.585</text><text class="fa" transform="translate(134 563) scale(.667 1)" font-size="10" textLength="108" lengthAdjust="spacingAndGlyphs">پیامدهای اقتصادی و</text><text class="fa" transform="translate(134 575) scale(.576 1)" font-size="9" textLength="48.6" lengthAdjust="spacingAndGlyphs">بازاریابی</text><text class="en" transform="translate(135 587) scale(.882 1)" font-size="10" textLength="110" lengthAdjust="spacingAndGlyphs">Economic and marketing</text><text class="en" transform="translate(134 601) scale(.8 1)" font-size="10" textLength="60" lengthAdjust="spacingAndGlyphs">implications</text></g>
<g id="macro-organizational-issues"><ellipse cx="287" cy="142" rx="17.5" ry="21.5"/><text class="v" x="287" y="142">0.672</text><text class="fa" transform="translate(316 162) scale(.599 1)" font-size="10.5" textLength="138.6" lengthAdjust="spacingAndGlyphs">مشکلات فراسازمانی کلان</text><text class="en" transform="translate(316 175) scale(.762 1)" font-size="10.5" textLength="141.75" lengthAdjust="spacingAndGlyphs">Macro organizational issues</text></g>
<g id="cultural-social-issues"><ellipse cx="402" cy="80" rx="17.5" ry="21.5"/><text class="v" x="402" y="80">0.733</text><text class="fa" transform="translate(420 103) scale(.667 1)" font-size="10" textLength="120" lengthAdjust="spacingAndGlyphs">مسائل فرهنگی-اجتماعی</text><text class="en" transform="translate(422 115) scale(.782 1)" font-size="10" textLength="110" lengthAdjust="spacingAndGlyphs">Cultural-social issues</text></g>
<g id="big-political-problems"><ellipse cx="471" cy="99" rx="17.5" ry="21.5"/><text class="v" x="471" y="99">0.588</text><text class="fa" transform="translate(460 60) scale(.73 1)" font-size="9" textLength="91.8" lengthAdjust="spacingAndGlyphs">مشکلات سیاسی کلان</text><text class="en" transform="translate(460 71) scale(.808 1)" font-size="9" textLength="99" lengthAdjust="spacingAndGlyphs">Big political problems</text></g>
<g id="terms-of-intervention"><ellipse cx="447" cy="182" rx="17.5" ry="21.5"/><text class="v" x="447" y="168">[+]</text><text class="fa" transform="translate(438 213) scale(.6 1)" font-size="11.5" textLength="96.6" lengthAdjust="spacingAndGlyphs">شرایط مداخله‌گر</text><text class="en" transform="translate(438 227) scale(.72 1)" font-size="11.5" textLength="120.75" lengthAdjust="spacingAndGlyphs">Terms of intervention</text></g>
<g id="macroeconomic-problems"><ellipse cx="533" cy="244" rx="17.5" ry="21.5"/><text class="v" x="533" y="244">0.748</text><text class="fa" transform="translate(500 262) scale(.675 1)" font-size="10" textLength="114" lengthAdjust="spacingAndGlyphs">مشکلات اقتصادی کلان</text><text class="en" transform="translate(500 274) scale(.909 1)" font-size="10" textLength="110" lengthAdjust="spacingAndGlyphs">Macroeconomic problems</text></g>
<g id="operational-strategies"><ellipse cx="381" cy="275" rx="17.5" ry="21.5"/><text class="v" x="381" y="275">0.718</text><text class="fa" transform="translate(386 307) scale(.566 1)" font-size="9" textLength="91.8" lengthAdjust="spacingAndGlyphs">راهبردهای عملیاتی</text><text class="en" transform="translate(389 318) scale(.828 1)" font-size="9" textLength="99" lengthAdjust="spacingAndGlyphs">Operational strategies</text></g>
<g id="strategies"><ellipse cx="394" cy="418" rx="17.5" ry="21.5"/><text class="v" x="394" y="404">[+]</text><text class="v" x="394" y="418">0.719</text><text class="fa" transform="translate(381 451) scale(.694 1)" font-size="15" textLength="72" lengthAdjust="spacingAndGlyphs">راهبردها</text><text class="en" transform="translate(386 469) scale(.748 1)" font-size="15.5" textLength="77.5" lengthAdjust="spacingAndGlyphs">Strategies</text></g>
<g id="central-phenomenon"><ellipse cx="569" cy="428" rx="17.5" ry="21.5"/><text class="v" x="569" y="415">[+]</text><text class="v" x="569" y="428">0.582</text><text class="fa" transform="translate(592 449) scale(.548 1)" font-size="10.5" textLength="69.3" lengthAdjust="spacingAndGlyphs">پدیده محوری</text><text class="en" transform="translate(590 462) scale(.836 1)" font-size="10.5" textLength="94.5" lengthAdjust="spacingAndGlyphs">Central phenomenon</text></g>
<g id="structural"><ellipse cx="515" cy="497" rx="17.5" ry="21.5"/><text class="v" x="515" y="497">0.850</text><text class="fa" transform="translate(519 527) scale(.643 1)" font-size="10" textLength="42" lengthAdjust="spacingAndGlyphs">ساختاری</text><text class="en" transform="translate(519 540) scale(.8 1)" font-size="10" textLength="50" lengthAdjust="spacingAndGlyphs">Structural</text></g>
<g id="managerial"><ellipse cx="600" cy="532" rx="17.5" ry="21.5"/><text class="v" x="600" y="532">0.460</text><text class="fa" transform="translate(583 548) scale(.857 1)" font-size="12.5" textLength="52.5" lengthAdjust="spacingAndGlyphs">مدیریتی</text><text class="en" transform="translate(586 563) scale(.88 1)" font-size="12.5" textLength="62.5" lengthAdjust="spacingAndGlyphs">managerial</text></g>
<g id="economic"><ellipse cx="519" cy="593" rx="17.5" ry="21.5"/><text class="v" x="519" y="593">0.611</text><text class="fa" transform="translate(510 625) scale(.779 1)" font-size="11" textLength="46.2" lengthAdjust="spacingAndGlyphs">اقتصادی</text><text class="en" x="510" y="638" font-size="11" textLength="45" lengthAdjust="spacingAndGlyphs">Economic</text></g>
<g id="macro-strategies"><ellipse cx="263" cy="452" rx="17.5" ry="21.5"/><text class="v" x="263" y="452">0.672</text><text class="fa" transform="translate(285 477) scale(.595 1)" font-size="12" textLength="100.8" lengthAdjust="spacingAndGlyphs">راهبردهای کلان</text><text class="en" transform="translate(286 491) scale(.833 1)" font-size="12" textLength="96" lengthAdjust="spacingAndGlyphs">Macro strategies</text></g>
<g id="intermediate-strategies"><ellipse cx="330" cy="635" rx="17.5" ry="21.5"/><text class="v" x="330" y="635">0.647</text><text class="fa" transform="translate(350 648) scale(.62 1)" font-size="9.5" textLength="85.5" lengthAdjust="spacingAndGlyphs">راهبردهای میانی</text><text class="en" transform="translate(351 660) scale(.77 1)" font-size="9.5" textLength="109" lengthAdjust="spacingAndGlyphs">Intermediate strategies</text></g>
<g id="background-conditions"><ellipse cx="402" cy="692" rx="17.5" ry="21.5"/><text class="v" x="402" y="679">[+]</text><text class="fa" transform="translate(391 722) scale(.626 1)" font-size="12.5" textLength="97.5" lengthAdjust="spacingAndGlyphs">شرایط زمینه‌ای</text><text class="en" transform="translate(390 737) scale(.794 1)" font-size="12.5" textLength="131" lengthAdjust="spacingAndGlyphs">Background conditions</text></g>
<g id="individual-group-factors"><ellipse cx="561" cy="692" rx="17.5" ry="21.5"/><text class="v" x="561" y="692">0.624</text><text class="fa" transform="translate(528 705) scale(.632 1)" font-size="9" textLength="156.6" lengthAdjust="spacingAndGlyphs">عوامل انسان محور فردی و گروهی</text><text class="en" transform="translate(528 716) scale(.733 1)" font-size="9" textLength="90" lengthAdjust="spacingAndGlyphs">Individual and group</text><text class="en" transform="translate(528 727) scale(.818 1)" font-size="9" textLength="99" lengthAdjust="spacingAndGlyphs">human-centered factors</text></g>
<g id="hardware-software-factors"><ellipse cx="519" cy="769" rx="17.5" ry="21.5"/><text class="v" x="519" y="769">0.566</text><text class="fa" transform="translate(519 803) scale(.612 1)" font-size="11" textLength="178.2" lengthAdjust="spacingAndGlyphs">عوامل سخت‌افزاری و نرم‌افزاری</text><text class="en" transform="translate(519 816) scale(.809 1)" font-size="11" textLength="159.5" lengthAdjust="spacingAndGlyphs">Hardware and software factors</text></g>
<g id="macro-management-factors"><ellipse cx="570" cy="878" rx="17.5" ry="21.5"/><text class="v" x="570" y="878">0.660</text><text class="fa" transform="translate(552 904) scale(.658 1)" font-size="9" textLength="97.2" lengthAdjust="spacingAndGlyphs">عوامل مدیریتی کلان</text><text class="en" transform="translate(546 915) scale(.8 1)" font-size="9" textLength="118" lengthAdjust="spacingAndGlyphs">Macro management factors</text></g>
<g id="policy-making-factors"><ellipse cx="425" cy="858" rx="17.5" ry="21.5"/><text class="v" x="425" y="858">0.759</text><text class="fa" transform="translate(411 877) scale(.712 1)" font-size="8.5" textLength="96.9" lengthAdjust="spacingAndGlyphs">عوامل سیاست گذاری و</text><text class="fa" transform="translate(411 888) scale(.59 1)" font-size="8.5" textLength="45.9" lengthAdjust="spacingAndGlyphs">سیاست‌کاری</text><text class="en" transform="translate(410 898) scale(.83 1)" font-size="8.5" textLength="72.25" lengthAdjust="spacingAndGlyphs">Policy making and</text><text class="en" transform="translate(410 910) scale(.78 1)" font-size="8.5" textLength="93.5" lengthAdjust="spacingAndGlyphs">political work factors</text></g>
<g id="structural-factors"><ellipse cx="407" cy="976" rx="17.5" ry="21.5"/><text class="v" x="407" y="976">0.522</text><text class="fa" transform="translate(397 988) scale(.655 1)" font-size="9" textLength="70.2" lengthAdjust="spacingAndGlyphs">عوامل ساختاری</text><text class="en" transform="translate(397 999) scale(.753 1)" font-size="9" textLength="81" lengthAdjust="spacingAndGlyphs">Structural factors</text></g>
<g id="sociocultural-factors"><ellipse cx="344" cy="1005" rx="17.5" ry="21.5"/><text class="v" x="344" y="1005">0.554</text><text class="fa" transform="translate(345 1038) scale(.682 1)" font-size="11" textLength="132" lengthAdjust="spacingAndGlyphs">عوامل اجتماعی فرهنگی</text><text class="en" transform="translate(345 1051) scale(.831 1)" font-size="11" textLength="115.5" lengthAdjust="spacingAndGlyphs">Sociocultural factors</text></g>
<g id="supportive-credit-policies"><ellipse cx="305" cy="916" rx="17.5" ry="21.5"/><text class="v" x="305" y="916">0.696</text><text class="fa" transform="translate(312 940) scale(.661 1)" font-size="9" textLength="75.6" lengthAdjust="spacingAndGlyphs">سیاست‌گذاری های</text><text class="fa" transform="translate(317 951) scale(.625 1)" font-size="9" textLength="86.4" lengthAdjust="spacingAndGlyphs">حمایتی و اعتباری</text><text class="en" transform="translate(315 962) scale(.807 1)" font-size="9" textLength="135" lengthAdjust="spacingAndGlyphs">Supportive and credit policies</text></g>
<g id="economic-financial-factors"><ellipse cx="295" cy="820" rx="17.5" ry="21.5"/><text class="v" x="295" y="820">0.704</text><text class="fa" transform="translate(303 837) scale(.633 1)" font-size="10" textLength="120" lengthAdjust="spacingAndGlyphs">عوامل اقتصادی و مالی</text><text class="en" x="308" y="849" font-size="10" textLength="62" lengthAdjust="spacingAndGlyphs">Economic and</text><text class="en" transform="translate(303 861) scale(.753 1)" font-size="10" textLength="85" lengthAdjust="spacingAndGlyphs">financial factors</text></g>
<g id="causal-conditions"><ellipse cx="692" cy="352" rx="17.5" ry="21.5"/><text class="v" x="692" y="339">[+]</text><text class="fa" transform="translate(692 388) scale(.623 1)" font-size="11" textLength="59.4" lengthAdjust="spacingAndGlyphs">شرایط علّی</text><text class="en" transform="translate(692 401) scale(.759 1)" font-size="11" textLength="93.5" lengthAdjust="spacingAndGlyphs">Causal conditions</text></g>
<g id="legal-factors"><ellipse cx="691" cy="152" rx="17.5" ry="21.5"/><text class="v" x="691" y="152">0.612</text><text class="fa" transform="translate(694 188) scale(.637 1)" font-size="12" textLength="86.4" lengthAdjust="spacingAndGlyphs">عوامل قانونی</text><text class="en" transform="translate(695 202) scale(.795 1)" font-size="12" textLength="78" lengthAdjust="spacingAndGlyphs">Legal factors</text></g>
<g id="political-factors"><ellipse cx="790" cy="127" rx="17.5" ry="21.5"/><text class="v" x="790" y="127">0.627</text><text class="fa" transform="translate(774 163) scale(.77 1)" font-size="12" textLength="79.2" lengthAdjust="spacingAndGlyphs">عوامل سیاسی</text><text class="en" transform="translate(774 177) scale(.784 1)" font-size="12" textLength="102" lengthAdjust="spacingAndGlyphs">Political factors</text></g>
<g id="international-factors"><ellipse cx="801" cy="227" rx="17.5" ry="21.5"/><text class="v" x="801" y="227">0.533</text><text class="fa" transform="translate(794 258) scale(.54 1)" font-size="9.5" textLength="85.5" lengthAdjust="spacingAndGlyphs">عوامل بین‌المللی</text><text class="en" transform="translate(798 272) scale(.745 1)" font-size="10.5" textLength="110" lengthAdjust="spacingAndGlyphs">International factors</text></g>
<g id="socio-economic-factors"><ellipse cx="803" cy="325" rx="17.5" ry="21.5"/><text class="v" x="803" y="325">0.675</text><text class="fa" transform="translate(788 354) scale(.616 1)" font-size="10" textLength="138" lengthAdjust="spacingAndGlyphs">عوامل اقتصادی - اجتماعی</text><text class="en" transform="translate(788 366) scale(.809 1)" font-size="10" textLength="110" lengthAdjust="spacingAndGlyphs">Socio-economic factors</text></g>
<g id="marketing-challenges"><ellipse cx="777" cy="423" rx="17.5" ry="21.5"/><text class="v" x="777" y="423">0.721</text><text class="fa" transform="translate(770 444) scale(.608 1)" font-size="10" textLength="102" lengthAdjust="spacingAndGlyphs">چالش‌های بازاریابی</text><text class="en" transform="translate(769 456) scale(.8 1)" font-size="10" textLength="100" lengthAdjust="spacingAndGlyphs">Marketing challenges</text></g>
<g id="organizational-challenges"><ellipse cx="820" cy="600" rx="17.5" ry="21.5"/><text class="v" x="820" y="600">0.534</text><text class="fa" transform="translate(801 622) scale(.794 1)" font-size="9" textLength="75.6" lengthAdjust="spacingAndGlyphs">چالش‌های سازمانی</text><text class="en" transform="translate(798 633) scale(.764 1)" font-size="9" textLength="112.5" lengthAdjust="spacingAndGlyphs">Organizational challenges</text></g>
<g id="startup-ecosystem"><ellipse cx="759" cy="673" rx="17.5" ry="21.5"/><text class="v" x="759" y="673">0.746</text><text class="fa" transform="translate(758 694) scale(.637 1)" font-size="8.5" textLength="122.4" lengthAdjust="spacingAndGlyphs">زیست بوم جوامع استارتاپی</text><text class="en" transform="translate(758 704) scale(.771 1)" font-size="8.5" textLength="153" lengthAdjust="spacingAndGlyphs">The ecosystem of startup communities</text></g>
</g>
</svg>
